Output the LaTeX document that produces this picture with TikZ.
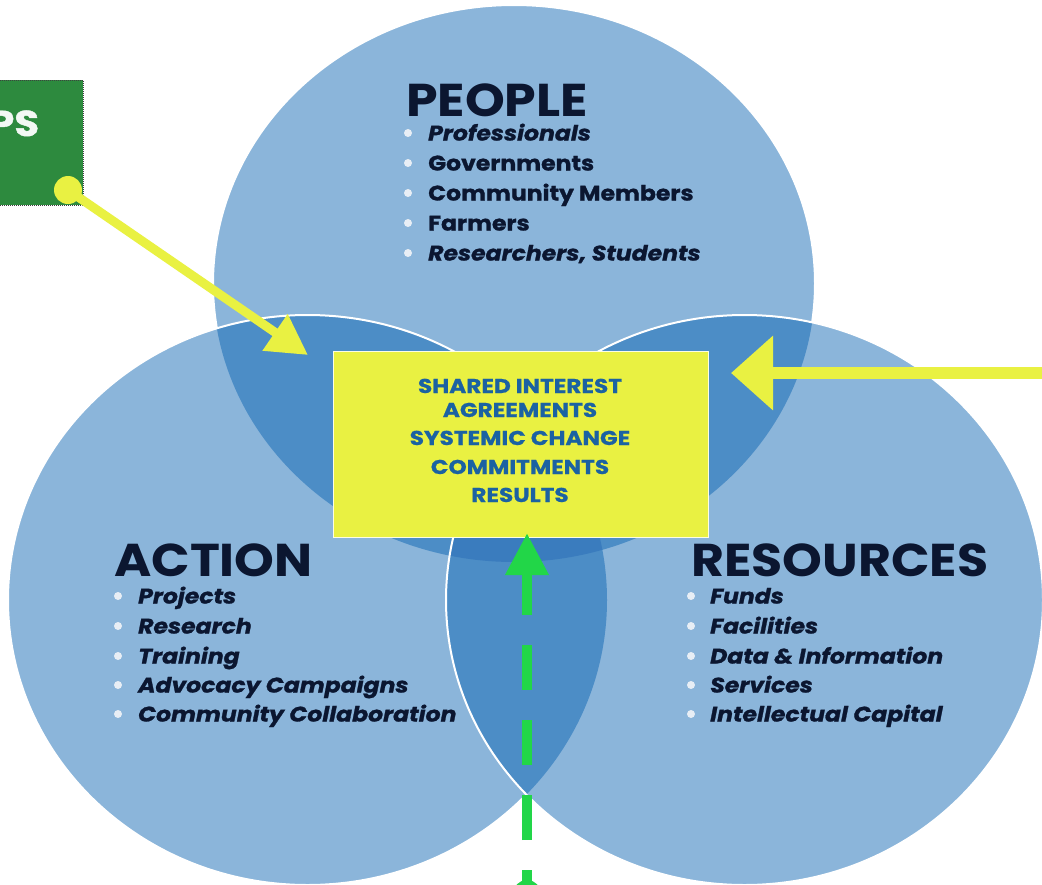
\documentclass[tikz,border=0pt]{standalone}
\usepackage{fontspec}
\newfontfamily\popt{Poppins}[FakeStretch=1.1]
\newfontfamily\popw{Poppins}[FakeStretch=1.12, FakeBold=1.2]
\newfontfamily\popc{Poppins}[FakeStretch=1.16, FakeBold=0.8]
\usetikzlibrary{arrows.meta}
\definecolor{cbase}{RGB}{139,181,218}
\definecolor{cdouble}{RGB}{76,141,198}
\definecolor{ctriple}{RGB}{58,124,190}
\definecolor{navy}{RGB}{11,22,48}
\definecolor{boxtext}{RGB}{27,98,162}
\definecolor{yel}{RGB}{233,241,66}
\definecolor{grn}{RGB}{34,214,72}
\definecolor{gbox}{RGB}{45,138,62}
\definecolor{bulc}{RGB}{232,238,245}
\begin{document}
\begin{tikzpicture}[x=1pt,y=-1pt,
  title/.style={anchor=base west, inner sep=0pt, text=navy, font=\popt\bfseries\fontsize{46}{46}\selectfont},
  itemi/.style={anchor=base west, inner sep=0pt, text=navy, font=\popw\bfseries\itshape\fontsize{21}{21}\selectfont},
  itemu/.style={anchor=base west, inner sep=0pt, text=navy, font=\popw\bfseries\fontsize{21}{21}\selectfont},
  ctext/.style={anchor=base, inner sep=0pt, text=boxtext, font=\popc\bfseries\fontsize{20}{20}\selectfont},
  bul/.style={fill=bulc},
  outline/.style={draw=white, line width=2pt},
  yarrow/.style={draw=yel, line width=9pt},
  garrow/.style={draw=grn, line width=10pt}
]
\path[use as bounding box] (0,0) rectangle (1042,884);
\clip (0,0) rectangle (1042,884);
\fill[white] (0,0) rectangle (1042,884);

% top circle
\fill[cbase] (514,283.5) ellipse [x radius=301pt, y radius=278.5pt];
\draw[outline] (514,283.5) ellipse [x radius=301pt, y radius=278.5pt];
% left circle
\fill[cbase] (307.5,600) ellipse [x radius=299.5pt, y radius=285pt];
\begin{scope}
  \clip (514,283.5) ellipse [x radius=301pt, y radius=278.5pt];
  \fill[cdouble] (307.5,600) ellipse [x radius=299.5pt, y radius=285pt];
\end{scope}
\draw[outline] (307.5,600) ellipse [x radius=299.5pt, y radius=285pt];
% right circle
\fill[cbase] (744.5,600) ellipse [x radius=298.5pt, y radius=285pt];
\begin{scope}
  \clip (514,283.5) ellipse [x radius=301pt, y radius=278.5pt];
  \fill[cdouble] (744.5,600) ellipse [x radius=298.5pt, y radius=285pt];
\end{scope}
\begin{scope}
  \clip (307.5,600) ellipse [x radius=299.5pt, y radius=285pt];
  \fill[cdouble] (744.5,600) ellipse [x radius=298.5pt, y radius=285pt];
\end{scope}
\begin{scope}
  \clip (514,283.5) ellipse [x radius=301pt, y radius=278.5pt];
  \clip (307.5,600) ellipse [x radius=299.5pt, y radius=285pt];
  \fill[ctriple] (744.5,600) ellipse [x radius=298.5pt, y radius=285pt];
\end{scope}
\draw[outline] (744.5,600) ellipse [x radius=298.5pt, y radius=285pt];

% green box (cut at left edge)
\node[fill=gbox, draw=black!75, densely dotted, line width=1pt, minimum width=95pt, minimum height=125pt, inner sep=0pt] (gb) at (35.5,142.5) {};
\node[anchor=base west, inner sep=0pt, text=white!94!gbox, font=\popw\bfseries\fontsize{36}{36}\selectfont] (gbt) at (-11,136) {PS};

% center box
\node[fill=yel, draw=white!85!yel, line width=1pt, minimum width=375pt, minimum height=186pt, inner sep=0pt] (box) at (520.5,444) {};
\node[ctext] (c1) at (520,393) {SHARED INTEREST};
\node[ctext] (c2) at (520,417) {AGREEMENTS};
\node[ctext] (c3) at (520,445) {SYSTEMIC CHANGE};
\node[ctext] (c4) at (520,474) {COMMITMENTS};
\node[ctext] (c5) at (520,502) {RESULTS};

% PEOPLE
\node[title] (tp) at (406,116) {PEOPLE};
\foreach \y in {133,163,193,223,253} \fill[bul] (408,\y) circle (4pt);
\node[itemi] (p1) at (428,140.5) {Professionals};
\node[itemu] (p2) at (428,170.5) {Governments};
\node[itemu] (p3) at (428,200.5) {Community Members};
\node[itemu] (p4) at (428,230.5) {Farmers};
\node[itemi] (p5) at (428,260.5) {Researchers, Students};

% ACTION
\node[title] (ta) at (114,576) {ACTION};
\foreach \y in {596,626,656,685,714} \fill[bul] (118,\y) circle (4pt);
\node[itemi] (a1) at (138,603.5) {Projects};
\node[itemi] (a2) at (138,633.5) {Research};
\node[itemi] (a3) at (138,663.5) {Training};
\node[itemi] (a4) at (138,692.5) {Advocacy Campaigns};
\node[itemi] (a5) at (138,721.5) {Community Collaboration};

% RESOURCES
\node[title] (tr) at (691,576) {RESOURCES};
\foreach \y in {596,626,656,685,714} \fill[bul] (691,\y) circle (4pt);
\node[itemi] (r1) at (710,603.5) {Funds};
\node[itemi] (r2) at (710,633.5) {Facilities};
\node[itemi] (r3) at (710,663.5) {Data \& Information};
\node[itemi] (r4) at (710,692.5) {Services};
\node[itemi] (r5) at (710,721.5) {Intellectual Capital};

% arrows
\node[circle, fill=yel, minimum size=28pt, inner sep=0pt] (ydot) at (68,190) {};
\coordinate (ltip) at (308,355);
\draw[yarrow, -{Triangle[length=40pt,width=42pt]}] (ydot.center) -- (ltip);

\coordinate (rtail) at (1070,373);
\coordinate (rtip) at (731,373);
\draw[draw=yel, line width=12pt, -{Triangle[length=42pt,width=72pt]}] (rtail) -- (rtip);

\node[circle, fill=grn, minimum size=28pt, inner sep=0pt] (gdot) at (527,894) {};
\coordinate (gtip) at (527,533);
\draw[garrow, dash pattern=on 45pt off 30pt, dash phase=21pt, -{Triangle[length=42pt,width=41pt]}] (gdot.center) -- (gtip);
\end{tikzpicture}
\end{document}
